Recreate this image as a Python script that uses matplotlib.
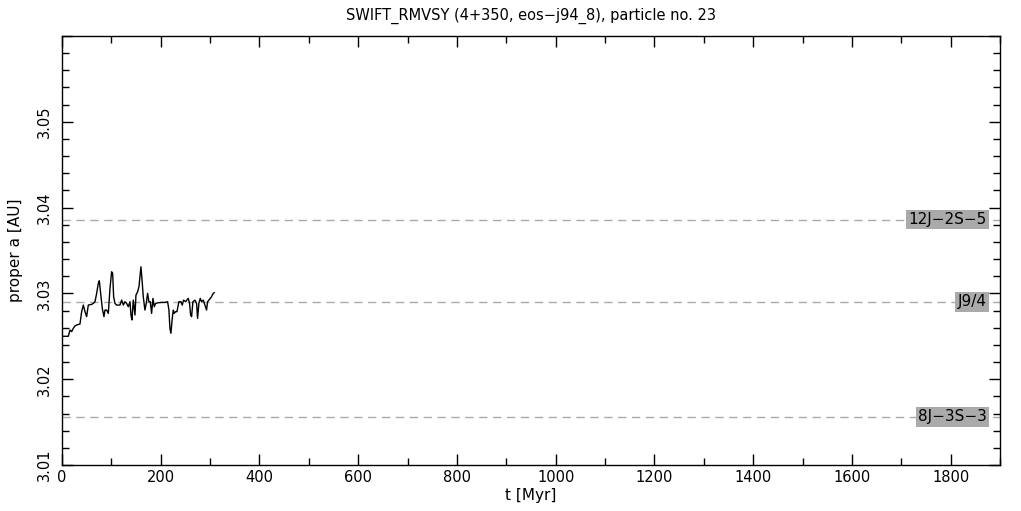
import matplotlib
matplotlib.use("Agg")
import matplotlib.pyplot as plt
from matplotlib.ticker import MultipleLocator, FuncFormatter

t_myr = [0, 12.8, 16.2, 19.6, 22.9, 26.3, 29.7, 36.4, 39.8, 43.2, 46.6, 49.9, 53.3, 60.1, 63.4,
         66.8, 70.2, 73.5, 75.6, 78.3, 81.6, 85.0, 87.0, 90.4, 93.8, 97.2, 100.5, 102.6, 104.6,
         107.3, 110.7, 117.4, 120.8, 124.2, 127.5, 130.9, 134.3, 137.7, 139.7, 141.7, 144.4,
         147.8, 149.8, 153.2, 155.9, 157.9, 159.9, 161.9, 164.6, 168.0, 170.7, 173.4, 176.1,
         178.8, 181.5, 184.2, 186.9, 189.6, 195.0, 201.8, 208.5, 213.9, 216.6, 218.6, 220.6,
         223.3, 225.4, 227.4, 230.1, 232.8, 236.8, 240.9, 243.6, 246.3, 250.3, 255.7, 258.4,
         260.5, 262.5, 265.2, 269.2, 272.6, 274.6, 277.3, 280.0, 282.7, 286.1, 289.5, 292.8,
         294.9, 297.6, 300.3, 302.9, 306.3, 308.4]
a_prop = [3.0250, 3.0250, 3.02574, 3.02554, 3.02593, 3.02620, 3.02632, 3.02643, 3.02787, 3.02864,
          3.02787, 3.02729, 3.02864, 3.02872, 3.02884, 3.02903, 3.0300, 3.03116, 3.03147, 3.0300,
          3.02826, 3.02729, 3.02806, 3.02806, 3.02767, 3.03058, 3.03252, 3.03233, 3.02961, 3.02884,
          3.02864, 3.02864, 3.02922, 3.02864, 3.02903, 3.02884, 3.02845, 3.02903, 3.02748, 3.02690,
          3.02922, 3.02748, 3.02981, 3.03019, 3.03078, 3.03194, 3.03310, 3.03174, 3.02961, 3.02806,
          3.02884, 3.0300, 3.02903, 3.02903, 3.02767, 3.02942, 3.02845, 3.02884, 3.02891, 3.02895,
          3.02895, 3.02903, 3.02806, 3.02593, 3.02535, 3.02709, 3.02806, 3.02767, 3.02787, 3.02787,
          3.02903, 3.02903, 3.02864, 3.02922, 3.02903, 3.02942, 3.02884, 3.02748, 3.02729, 3.02903,
          3.02922, 3.02884, 3.02709, 3.02884, 3.02942, 3.02903, 3.02922, 3.02864, 3.02806, 3.02903,
          3.02922, 3.02942, 3.02961, 3.0300, 3.03008]

res_names = ["12J\u22122S\u22125", "J9/4", "8J\u22123S\u22123"]
res_a = [3.0386, 3.0290, 3.0156]

title = "SWIFT_RMVSY (4+350, eos\u2212j94_8), particle no. 23"

fig = plt.figure(figsize=(10.21, 5.11), dpi=100)
ax = fig.add_axes([62/1021, 46/511, 938/1021, 429/511])

ax.set_xlim(0, 1900)
ax.set_ylim(3.01, 3.06)

for name, a in zip(res_names, res_a):
    ax.axhline(a, color="#aaaaaa", lw=1.0, ls=(0, (6, 4)), zorder=1)
    ax.text(1873, a, name, ha="right", va="center", fontsize=11, color="black",
            bbox=dict(boxstyle="square,pad=0.15", facecolor="#aaaaaa", edgecolor="none"),
            zorder=3)

ax.plot(t_myr, a_prop, color="black", lw=1.0, zorder=2)

ax.xaxis.set_major_locator(MultipleLocator(200))
ax.xaxis.set_minor_locator(MultipleLocator(100))
ax.yaxis.set_major_locator(MultipleLocator(0.01))
ax.yaxis.set_minor_locator(MultipleLocator(0.002))
ax.xaxis.set_major_formatter(FuncFormatter(lambda v, p: "" if v > 1850 else f"{v:.0f}"))
ax.yaxis.set_major_formatter(FuncFormatter(lambda v, p: "" if v > 3.055 else f"{v:.2f}"))
ax.tick_params(which="both", direction="in", top=True, right=True, width=1.0, labelsize=10.5)
ax.tick_params(which="major", length=8)
ax.tick_params(which="minor", length=5)
ax.tick_params(axis="y", labelrotation=90, pad=7)
for lab in ax.get_yticklabels():
    lab.set_va("center")
for sp in ax.spines.values():
    sp.set_linewidth(1.0)

ax.set_xlabel("t [Myr]", fontsize=11, labelpad=2)
ax.set_ylabel("proper a [AU]", fontsize=11, labelpad=10)
ax.set_title(title, fontsize=10.5, pad=12)

fig.savefig("out.png", dpi=100)
